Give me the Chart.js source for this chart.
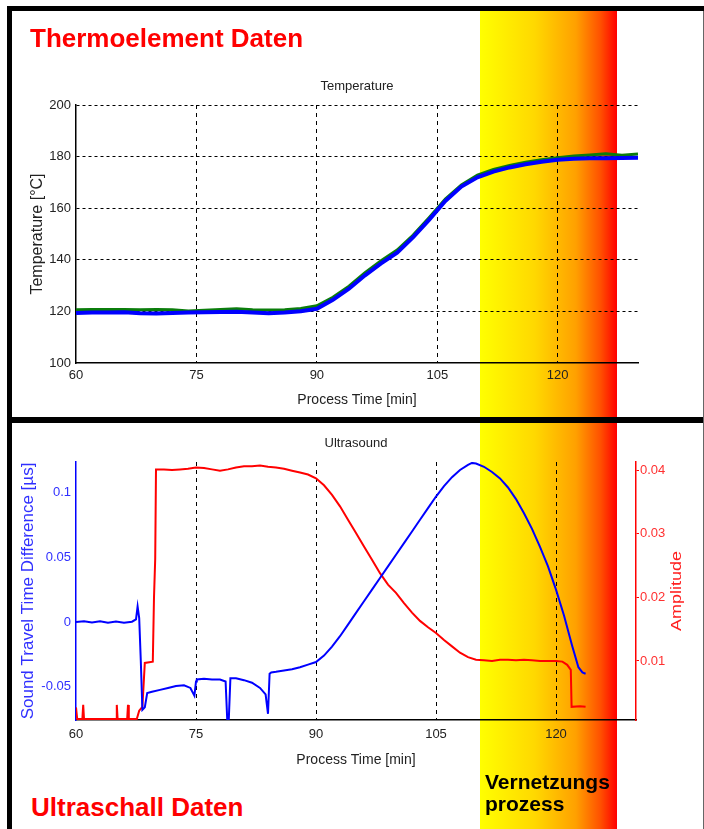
<!DOCTYPE html>
<html>
<head>
<meta charset="utf-8">
<script src="https://cdn.jsdelivr.net/npm/chart.js"></script>
<style>
  body { margin: 0; background: #fff; }
  #page { position: relative; width: 704px; height: 829px; overflow: hidden; background: #fff; font-family: Arial, "Liberation Sans", sans-serif; }
  .band { position: absolute; left: 480px; width: 137px; top: 11px; bottom: 0;
    background: linear-gradient(to right, #ffff00 0%, #ffd800 40%, #ffa000 70%, #ff5000 88%, #ff0000 100%); }
  .bar { position: absolute; background: #000; }
  canvas { position: absolute; left: 0; }
  .label { position: absolute; font-weight: bold; white-space: nowrap; }
  .red { color: #ff0000; font-size: 26px; line-height: 26px; }
</style>
</head>
<body>
<div id="page">
  <div class="band"></div>
  <canvas id="tempChart" width="704" height="416" style="top:0"></canvas>
  <canvas id="usChart" width="704" height="368" style="top:422px"></canvas>
  <div class="bar" style="left:7px;top:6px;width:697px;height:5px"></div>
  <div class="bar" style="left:7px;top:6px;width:5px;height:823px"></div>
  <div class="bar" style="left:7px;top:417px;width:697px;height:6px"></div>
  <div class="bar" style="left:703px;top:11px;width:1px;height:818px;background:#666"></div>
  <div class="label red" style="left:30px;top:25px">Thermoelement Daten</div>
  <div class="label red" style="left:31px;top:794px">Ultraschall Daten</div>
  <div class="label" style="left:485px;top:771px;font-size:21px;line-height:22px;color:#000">Vernetzungs<br>prozess</div>
</div>
<script>
// axis ticks
const timeTicks = [60, 75, 90, 105, 120];
const tempTicks = [100, 120, 140, 160, 180, 200];
const stdTicks = [-0.05, 0, 0.05, 0.1];
const ampTicks = [0.01, 0.02, 0.03, 0.04];

// thermocouple data [min], [°C]
const tempTime = [60, 62, 64, 66, 68, 70, 72, 74, 76, 78, 80, 82, 84, 86, 88, 90, 92, 94,
  96, 98, 100, 102, 104, 106, 108, 110, 112, 114, 116, 118, 120, 122, 124, 126, 128, 130];
const tempBlue = [119.4, 119.6, 119.6, 119.7, 119.3, 119.2, 119.4, 119.6, 119.7, 119.8,
  119.9, 119.6, 119.3, 119.6, 120.1, 121.0, 124.5, 128.8, 134.0, 138.6,
  142.8, 148.8, 155.6, 162.8, 168.4, 172.0, 174.2, 175.8, 177.0, 178.0,
  178.8, 179.2, 179.4, 179.4, 179.5, 179.6];
const tempGreen = [120.6, 120.7, 120.7, 120.7, 120.6, 120.7, 120.6, 120.2, 120.4, 120.7,
  121.0, 120.6, 120.5, 120.6, 121.1, 122.2, 125.5, 129.8, 135.0, 139.6,
  143.8, 149.6, 156.4, 163.5, 169.0, 172.8, 175.0, 176.6, 177.8, 178.8,
  179.6, 180.2, 180.6, 181.1, 180.5, 181.0];

// ultrasound: sound travel time difference [µs]
const stdTime = [60, 61, 62, 63, 64, 65, 66, 67, 67.5, 67.7, 67.9, 68.1, 68.3, 68.6, 68.9,
  69.5, 70.5, 71.5, 72.5, 73.5, 74.3, 74.8, 75.0, 75.1, 76, 77, 78, 78.7, 78.9, 79.1, 79.3,
  80, 81, 82, 83, 83.7, 84.0, 84.2, 84.4, 85, 86, 87, 88, 89, 90, 91, 92, 93, 94, 95, 96,
  97, 98, 99, 100, 101, 102, 103, 104, 105, 106, 107, 108, 109, 109.5, 110, 111, 112, 113,
  114, 115, 116, 117, 118, 119, 120, 121, 122, 122.8, 123.3, 123.7];
const stdValues = [0.000, 0.0006, -0.0004, 0.0005, -0.0006, 0.0003, -0.0005, 0.0002, 0.002, 0.012,
  0.003, -0.030, -0.068, -0.066, -0.055, -0.054, -0.0525, -0.051, -0.0495, -0.049,
  -0.051, -0.057, -0.046, -0.0445, -0.044, -0.0445, -0.0445, -0.046, -0.075, -0.075,
  -0.0435, -0.0435, -0.045, -0.047, -0.051, -0.056, -0.071, -0.040, -0.039, -0.0385,
  -0.0375, -0.0365, -0.035, -0.033, -0.031, -0.026, -0.019, -0.011, -0.002, 0.007,
  0.016, 0.025, 0.034, 0.043, 0.052, 0.061, 0.070, 0.079, 0.088, 0.097,
  0.105, 0.112, 0.1175, 0.1215, 0.123, 0.1225, 0.120, 0.116, 0.111, 0.104,
  0.095, 0.084, 0.072, 0.058, 0.043, 0.025, 0.005, -0.018, -0.035, -0.039, -0.040];

// ultrasound: amplitude
const ampTime = [60, 60.15, 60.8, 60.9, 61.0, 62, 63, 64, 65.0, 65.1, 65.2, 66.4, 66.5, 66.6,
  67.6, 67.9, 68.3, 68.6, 69.6, 69.75, 69.9, 70.0, 71, 72, 73, 74, 75, 76, 77, 78, 79, 80,
  81, 82, 83, 84, 85, 86, 87, 88, 89, 90, 91, 92, 93, 94, 95, 96, 97, 98, 99, 100, 101,
  102, 103, 104, 105, 106, 107, 108, 109, 110, 111, 112, 113, 114, 115, 116, 117, 118,
  119, 120, 120.8, 121.4, 121.85, 121.95, 123, 123.7];
const ampValues = [0.0027, 0.0009, 0.0009, 0.0031, 0.0009, 0.0009, 0.0009, 0.0009, 0.0009, 0.0031,
  0.0009, 0.0009, 0.0031, 0.0009, 0.0009, 0.0022, 0.0028, 0.0097, 0.0099, 0.0200,
  0.0260, 0.0401, 0.0401, 0.0400, 0.0401, 0.0402, 0.0404, 0.0403, 0.0401, 0.0399,
  0.0401, 0.0404, 0.0406, 0.0406, 0.0407, 0.0405, 0.0404, 0.0402, 0.0399, 0.0396,
  0.0393, 0.0387, 0.0376, 0.0361, 0.0343, 0.0322, 0.0301, 0.0280, 0.0259, 0.0238,
  0.0220, 0.0207, 0.0191, 0.0176, 0.0163, 0.0153, 0.0144, 0.0133, 0.0123, 0.0113,
  0.0106, 0.0102, 0.0101, 0.0100, 0.0102, 0.0102, 0.0101, 0.0102, 0.0101, 0.0100,
  0.0100, 0.0100, 0.0099, 0.0094, 0.0086, 0.0028, 0.0029, 0.0028];

Chart.defaults.font.family = 'Arial, "Liberation Sans", sans-serif';
Chart.defaults.color = '#222';

const pair = (xs, ys) => xs.map((x, i) => ({ x: x, y: ys[i] }));
const fixTicks = (list) => (scale) => { scale.ticks = list.map(v => ({ value: v })); };
const hideAt = (v) => (c) => (c.tick && c.tick.value === v) ? 'rgba(0,0,0,0)' : '#000';

// Temperature chart
new Chart(document.getElementById('tempChart'), {
  type: 'line',
  data: {
    datasets: [
      { label: 'TC 1', data: pair(tempTime, tempBlue), borderColor: '#0000ff', borderWidth: 4, pointRadius: 0 },
      { label: 'TC 2', data: pair(tempTime, tempGreen), borderColor: '#0b7d0b', borderWidth: 3, pointRadius: 0 }
    ]
  },
  options: {
    responsive: false,
    animation: false,
    layout: { padding: { top: 79, right: 66, left: 0, bottom: 0 } },
    plugins: {
      legend: { display: false },
      tooltip: { enabled: false },
      title: { display: true, fullSize: false, text: 'Temperature', color: '#222',
        font: { size: 13, weight: 'normal' }, padding: { top: 0, bottom: 10.4 } }
    },
    scales: {
      x: {
        type: 'linear', min: 60, max: 130,
        afterBuildTicks: fixTicks(timeTicks),
        afterFit: (s) => { s.height = 53; },
        ticks: { font: { size: 13 }, padding: 5, autoSkip: false, maxRotation: 0, callback: (v) => String(v) },
        grid: { color: hideAt(60), drawTicks: false },
        border: { color: '#000', width: 1.5, dash: [4, 4] },
        title: { display: true, text: 'Process Time [min]', font: { size: 14 }, padding: { top: 0, bottom: 7.6 } }
      },
      y: {
        min: 100, max: 200,
        afterBuildTicks: fixTicks(tempTicks),
        afterFit: (s) => { s.width = 76; },
        ticks: { font: { size: 13 }, padding: 5, autoSkip: false, callback: (v) => String(v) },
        grid: { color: hideAt(100), drawTicks: false },
        border: { color: '#000', width: 1.5, dash: [3, 3] },
        title: { display: true, text: 'Temperature [°C]', font: { size: 16 }, padding: { top: 28.4, bottom: 0 } }
      }
    }
  }
});

// right axis title reads bottom to top
const ampTitle = {
  id: 'ampTitle',
  afterDraw(chart) {
    const { ctx, chartArea } = chart;
    ctx.save();
    ctx.translate(677, (chartArea.top + chartArea.bottom) / 2);
    ctx.rotate(-Math.PI / 2);
    ctx.scale(1.2, 1);
    ctx.fillStyle = '#ff2020';
    ctx.font = '15px Arial, "Liberation Sans", sans-serif';
    ctx.textAlign = 'center';
    ctx.textBaseline = 'middle';
    ctx.fillText('Amplitude', 0, 0);
    ctx.restore();
  }
};

// Ultrasound chart
new Chart(document.getElementById('usChart'), {
  type: 'line',
  data: {
    datasets: [
      { label: 'Sound Travel Time Difference', data: pair(stdTime, stdValues), yAxisID: 'y',
        borderColor: '#0000ff', borderWidth: 2, pointRadius: 0 },
      { label: 'Amplitude', data: pair(ampTime, ampValues), yAxisID: 'y1',
        borderColor: '#ff0000', borderWidth: 2, pointRadius: 0 }
    ]
  },
  options: {
    responsive: false,
    animation: false,
    layout: { padding: { top: 13.2, right: 0, left: 0, bottom: 0 } },
    plugins: {
      legend: { display: false },
      tooltip: { enabled: false },
      title: { display: true, fullSize: false, text: 'Ultrasound', color: '#222',
        font: { size: 13, weight: 'normal' }, padding: { top: 0, bottom: 11.2 } }
    },
    scales: {
      x: {
        type: 'linear', min: 60, max: 130,
        afterBuildTicks: fixTicks(timeTicks),
        afterFit: (s) => { s.height = 70; },
        ticks: { font: { size: 13 }, padding: 7, autoSkip: false, maxRotation: 0, callback: (v) => String(v) },
        grid: { color: hideAt(60), drawTicks: false },
        border: { color: '#000', width: 1.5, dash: [4, 4] },
        title: { display: true, text: 'Process Time [min]', font: { size: 14 }, padding: { top: 0, bottom: 21.6 } }
      },
      y: {
        position: 'left',
        min: -0.0758, max: 0.1237,
        afterBuildTicks: fixTicks(stdTicks),
        afterFit: (s) => { s.width = 76; },
        ticks: { color: '#3030ff', font: { size: 13 }, padding: 5, autoSkip: false, callback: (v) => String(v) },
        grid: { display: false, drawTicks: false },
        border: { color: '#0000ff', width: 1.5 },
        title: { display: true, text: 'Sound Travel Time Difference [µs]', color: '#3030ff',
          font: { size: 17 }, padding: { top: 17.8, bottom: 0 } }
      },
      y1: {
        position: 'right',
        min: 0.00073, max: 0.04126,
        afterBuildTicks: fixTicks(ampTicks),
        afterFit: (s) => { s.width = 68; },
        ticks: { color: '#ff3030', font: { size: 13 }, padding: 1, autoSkip: false, callback: (v) => String(v) },
        grid: { drawOnChartArea: false, drawTicks: true, tickLength: 3, tickColor: '#ff0000' },
        border: { color: '#ff0000', width: 1.5 },
        title: { display: false }
      }
    }
  },
  plugins: [ampTitle]
});
</script>
</body>
</html>
